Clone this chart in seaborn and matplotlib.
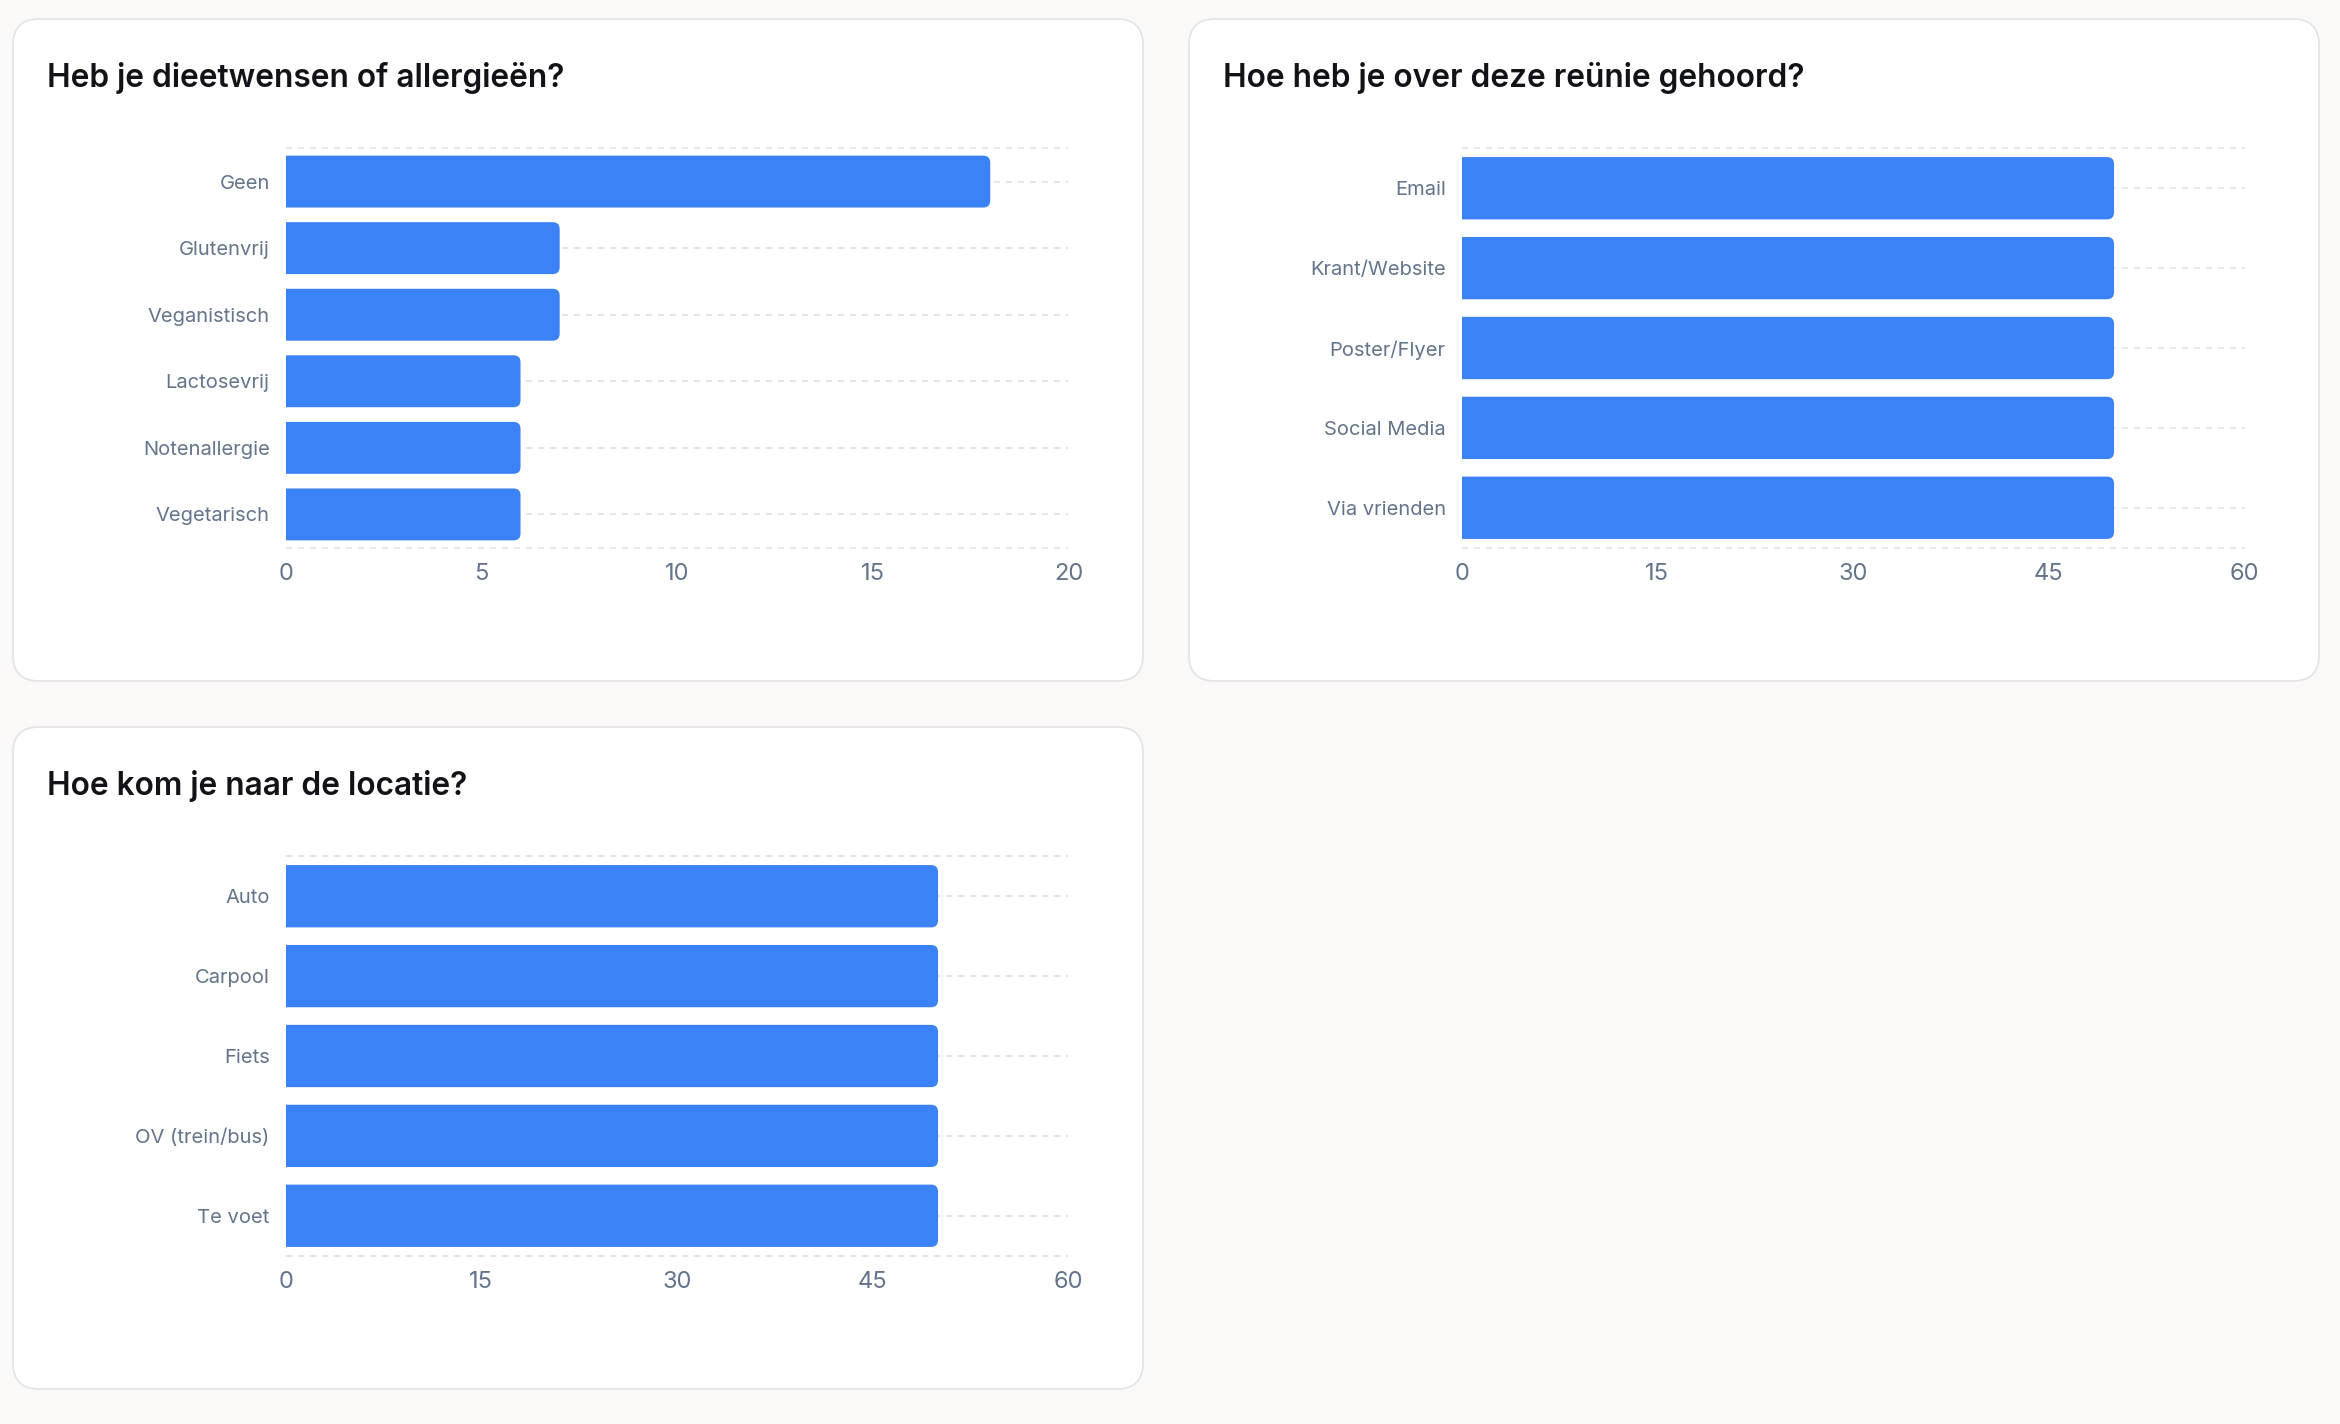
import matplotlib
matplotlib.use("Agg")
import matplotlib.pyplot as plt
import seaborn as sns
from matplotlib.patches import FancyBboxPatch

# data
diet_labels = ["Geen", "Glutenvrij", "Veganistisch", "Lactosevrij", "Notenallergie", "Vegetarisch"]
diet_counts = [18, 7, 7, 6, 6, 6]
diet_ticks = [0, 5, 10, 15, 20]

source_labels = ["Email", "Krant/Website", "Poster/Flyer", "Social Media", "Via vrienden"]
source_counts = [50, 50, 50, 50, 50]
source_ticks = [0, 15, 30, 45, 60]

travel_labels = ["Auto", "Carpool", "Fiets", "OV (trein/bus)", "Te voet"]
travel_counts = [50, 50, 50, 50, 50]
travel_ticks = [0, 15, 30, 45, 60]

titles = ["Heb je dieetwensen of allergieën?", "Hoe heb je over deze reünie gehoord?", "Hoe kom je naar de locatie?"]

sns.set_style("white")
plt.rcParams['font.family'] = ['Inter', 'DejaVu Sans']

W, H = 2340, 1424
BG = "#FAF9F7"
BLUE = "#3B82F6"
GRID = "#E0E2E6"
TICK = "#64748B"

fig = plt.figure(figsize=(W / 100, H / 100), dpi=100, facecolor=BG)

# background layer in pixel units for cards and titles
bg = fig.add_axes([0, 0, 1, 1], zorder=0)
bg.set_xlim(0, W)
bg.set_ylim(H, 0)
bg.axis('off')

card_w, card_h = 1130, 662
card_pos = [(13, 19), (1189, 19), (13, 727)]
for (cx, cy), title in zip(card_pos, titles):
    bg.add_patch(FancyBboxPatch((cx, cy), card_w, card_h,
                                boxstyle="round,pad=0,rounding_size=26",
                                fc="white", ec="#E3E3E6", lw=1.2))
    bg.text(cx + 34, cy + 68, title, fontsize=22.8, fontweight='semibold',
            color="#111318", va='baseline', ha='left')

charts = [(diet_labels, diet_counts, diet_ticks),
          (source_labels, source_counts, source_ticks),
          (travel_labels, travel_counts, travel_ticks)]

ax_left, ax_top, ax_w, ax_h = 272.7, 129.3, 782.8, 399.4  # relative to card
r_px = 7

for (cx, cy), (labels, counts, ticks) in zip(card_pos, charts):
    x0 = cx + ax_left
    y0 = cy + ax_top
    ax = fig.add_axes([x0 / W, 1 - (y0 + ax_h) / H, ax_w / W, ax_h / H], zorder=2)
    ax.set_facecolor("none")
    n = len(labels)

    sns.barplot(x=counts, y=labels, orient='h', color=BLUE, saturation=1,
                width=0.78, linewidth=0, ax=ax, zorder=2)
    xmax = ticks[-1]
    ax.set_xlim(0, xmax)
    ax.set_ylim(n - 0.5, -0.5)

    # rounded right ends
    rx = r_px * xmax / ax_w
    ry = r_px * n / ax_h
    for p in list(ax.patches):
        x, y, w, h = p.get_x(), p.get_y(), p.get_width(), p.get_height()
        p.remove()
        ax.add_patch(FancyBboxPatch((x - 2 * rx, y), w + 2 * rx, h,
                                    boxstyle=f"round,pad=0,rounding_size={rx}",
                                    mutation_aspect=ry / rx, fc=BLUE, ec='none', zorder=2))

    # dashed grid: boundaries and category centres
    ys = [-0.5] + list(range(n)) + [n - 0.5]
    ax.hlines(ys, 0, xmax, colors=GRID, linewidth=1.2, linestyles=(0, (3.6, 3.6)),
              zorder=0, clip_on=False)

    ax.set_xticks(ticks)
    ax.set_xticklabels([str(t) for t in ticks])
    ax.tick_params(axis='x', length=0, pad=11, labelsize=17, labelcolor=TICK)
    ax.tick_params(axis='y', length=0, pad=11.5, labelsize=14.5, labelcolor=TICK)
    ax.set_xlabel("")
    ax.set_ylabel("")
    for s in ax.spines.values():
        s.set_visible(False)
    ax.grid(False)

fig.savefig("out.png", dpi=100, facecolor=BG)
